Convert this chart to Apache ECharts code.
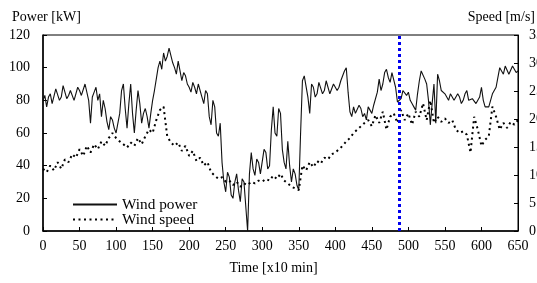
<!DOCTYPE html>
<html>
<head>
<meta charset="utf-8">
<script src="https://cdn.jsdelivr.net/npm/echarts@6/dist/echarts.min.js"></script>
<style>html,body{margin:0;padding:0;background:#fff;}#chart{width:537px;height:283px;}</style>
</head>
<body>
<div id="chart"></div>
<script>
// Sampling steps (x10 min)
const powerStep = 2.5;
const speedStep = 5;
// Wind power [kW], every 2.5 time units from 0 to 650
const windPower = [
  80,83,76,82,84,78,79,87,86,80,82,89,88,81,83,86,87,80,81,88,
  86,83,84,90,89,80,66,82,85,88,80,84,70,80,75,67,62,70,68,63,
  60,66,72,86,90,75,63,78,90,72,60,74,86,78,66,72,75,70,63,72,
  80,86,93,100,104,99,109,104,107,112,113,103,100,96,104,98,92,97,95,90,
  88,85,91,88,84,90,89,82,78,86,84,70,65,80,76,60,58,66,42,30,
  24,36,33,22,20,30,35,25,18,32,30,15,0,35,48,38,34,44,42,35,
  36,50,48,38,40,62,76,60,58,75,72,50,42,38,55,40,30,38,35,28,
  25,60,92,95,94,82,72,90,88,82,84,91,90,84,86,92,91,84,85,90,
  90,86,88,92,93,98,100,85,73,70,76,72,71,77,75,70,72,68,76,74,
  72,77,78,85,93,86,90,97,99,94,91,97,96,88,79,80,81,86,87,83,
  85,80,78,76,74,84,92,98,97,93,90,80,65,78,90,66,96,92,86,87,
  84,82,80,84,83,80,79,84,82,78,80,84,86,80,79,81,80,78,78,82,
  88,80,76,76,76,80,84,86,88,94,100,98,96,101,102,96,97,101,100,97,
  98
];
// Wind speed [m/s], every 5 time units from 0 to 650
const windSpeed = [
  11.1,10.5,11.7,10.8,12.3,11.1,12.8,12.3,13.7,13.1,
  14.6,13.4,15.2,14.0,15.5,14.6,16.0,15.2,16.6,17.5,
  16.6,16.0,15.5,14.9,15.8,15.2,16.6,15.5,16.9,18.1,
  17.5,19.8,21.6,22.2,16.9,15.8,15.2,15.8,14.3,15.2,
  13.4,14.3,12.5,13.1,11.7,12.3,10.5,9.9,9.3,9.6,
  8.8,9.0,8.2,8.8,7.9,8.5,8.2,8.8,8.5,9.0,
  8.8,9.3,9.0,9.9,9.3,10.2,9.0,8.5,7.9,7.6,
  7.3,11.7,10.8,12.3,11.4,12.5,12.0,13.1,12.8,13.7,
  14.0,14.6,15.2,16.0,16.6,17.5,18.1,18.7,19.3,19.8,
  18.7,20.7,19.3,21.3,18.1,20.4,21.0,19.3,21.6,19.8,
  21.0,19.0,21.3,20.4,22.8,19.8,23.3,19.3,20.4,19.5,
  20.1,19.3,19.8,18.1,17.5,17.8,17.2,14.0,20.4,18.1,
  15.2,16.3,16.9,22.2,20.4,18.1,19.3,18.4,19.5,19.0,
  19.8
];
// Marker time (blue vertical dotted line)
const markerTime = [488];
const seriesNames = ['Wind power', 'Wind speed'];
const axisNames = ['Time [x10 min]', 'Power [kW]', 'Speed [m/s]'];

const powerData = windPower.map((v, i) => [i * powerStep, v]);
const speedData = windSpeed.map((v, i) => [i * speedStep, v]);

const FONT = 'Liberation Serif';
const txt = {fontFamily: FONT, fontSize: 14, color: '#000'};

const chart = echarts.init(document.getElementById('chart'), null, {renderer: 'canvas'});
chart.setOption({
  animation: false,
  backgroundColor: '#fff',
  textStyle: {fontFamily: FONT},
  grid: {left: 43, right: 19, top: 35, bottom: 52, show: true, borderColor: '#000', borderWidth: 1,
         containLabel: false, outerBoundsMode: 'none'},
  legend: {
    orient: 'vertical', left: 72, top: 197, itemWidth: 44, itemHeight: 13, itemGap: 0, padding: 0,
    textStyle: {fontFamily: FONT, fontSize: 15.3, lineHeight: 13, color: '#000'},
    itemStyle: {opacity: 0},
    data: seriesNames
  },
  graphic: [
    {type: 'text', left: 12, top: 10, style: {text: axisNames[1], font: '14px "Liberation Serif"', fill: '#000'}},
    {type: 'text', right: 2, top: 10, style: {text: axisNames[2], font: '14px "Liberation Serif"', fill: '#000'}}
  ],
  xAxis: {
    type: 'value', min: 0, max: 650, interval: 50,
    name: axisNames[0], nameLocation: 'middle', nameGap: 30,
    nameTextStyle: Object.assign({}, txt, {padding: [0, 14, 0, 0]}),
    axisLine: {lineStyle: {color: '#000', width: 1.5}},
    axisTick: {inside: true, length: 4, lineStyle: {color: '#000'}},
    axisLabel: Object.assign({}, txt, {margin: 8}),
    splitLine: {show: false}
  },
  yAxis: [
    {
      type: 'value', min: 0, max: 120, interval: 20, position: 'left',
      axisLine: {show: true, lineStyle: {color: '#000', width: 1.5}},
      axisTick: {show: true, inside: true, length: 4, lineStyle: {color: '#000'}},
      axisLabel: Object.assign({}, txt, {margin: 13}),
      splitLine: {show: false}
    },
    {
      type: 'value', min: 0, max: 35, interval: 5, position: 'right',
      axisLine: {show: true, lineStyle: {color: '#000', width: 1}},
      axisTick: {show: true, inside: true, length: 4, lineStyle: {color: '#000'}},
      axisLabel: Object.assign({}, txt, {margin: 11}),
      splitLine: {show: false}
    }
  ],
  series: [
    {
      name: seriesNames[0], type: 'line', yAxisIndex: 0, data: powerData,
      symbol: 'none', lineStyle: {color: '#111', width: 1.1},
      itemStyle: {color: '#111'},
      markLine: {
        silent: true, symbol: 'none', label: {show: false},
        lineStyle: {color: '#0000ee', width: 3, type: 'dotted'},
        data: markerTime.map(t => ({xAxis: t}))
      }
    },
    {
      name: seriesNames[1], type: 'line', yAxisIndex: 1, data: speedData,
      symbol: 'none', lineStyle: {color: '#000', width: 2, type: [2, 3.5]},
      itemStyle: {color: '#000'}
    }
  ]
});
</script>
</body>
</html>
